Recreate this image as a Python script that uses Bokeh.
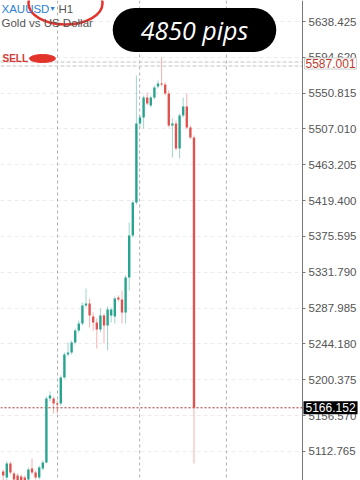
from bokeh.plotting import figure
from bokeh.models import (Range1d, FixedTicker, PrintfTickFormatter, Span, Label,
                          ColumnDataSource, BoxAnnotation)
from bokeh.embed import file_html
from bokeh.resources import INLINE

# ---- data (XAUUSD H1) ----
open_ = [5088.3, 5080.9, 5098.0, 5085.8, 5083.4, 5082.2, 5080.9, 5078.5, 5091.9, 5087.0,
         5080.9, 5091.9, 5099.3, 5177.5, 5177.5, 5171.4, 5171.4, 5203.2, 5231.3, 5233.7,
         5246.0, 5260.6, 5269.2, 5291.2, 5293.6, 5277.8, 5270.4, 5261.9, 5279.0, 5266.8,
         5279.0, 5277.8, 5301.0, 5298.6, 5282.7, 5325.4, 5376.8, 5417.1, 5513.7, 5521.1,
         5545.5, 5535.7, 5545.5, 5559.0, 5562.6, 5561.4, 5550.4, 5511.3, 5513.7, 5483.2,
         5523.5, 5534.5, 5508.8, 5496.6]
high_ = [5090.7, 5100.5, 5100.5, 5088.3, 5085.8, 5084.6, 5083.4, 5093.1, 5104.2, 5089.5,
         5095.6, 5101.7, 5180.0, 5186.1, 5180.0, 5175.1, 5205.6, 5233.7, 5246.0, 5248.4,
         5263.1, 5272.9, 5294.9, 5312.0, 5299.8, 5282.7, 5275.3, 5287.5, 5281.4, 5290.0,
         5288.8, 5302.2, 5303.5, 5309.5, 5327.9, 5392.7, 5419.6, 5572.4, 5523.5, 5547.9,
         5551.6, 5547.9, 5560.2, 5566.3, 5594.4, 5563.9, 5554.1, 5519.8, 5517.4, 5525.9,
         5545.5, 5550.4, 5511.3, 5499.0]
low_ = [5077.3, 5077.3, 5084.6, 5074.8, 5073.6, 5072.4, 5071.2, 5076.0, 5084.6, 5078.5,
        5078.5, 5089.5, 5098.0, 5173.8, 5159.2, 5159.2, 5168.9, 5202.0, 5228.9, 5231.3,
        5243.5, 5258.2, 5266.8, 5288.8, 5264.3, 5260.6, 5238.6, 5258.2, 5244.7, 5236.2,
        5270.4, 5269.2, 5296.1, 5269.2, 5269.2, 5309.5, 5374.4, 5414.7, 5509.0, 5507.6,
        5535.7, 5533.3, 5543.1, 5556.5, 5559.0, 5547.9, 5508.8, 5472.2, 5480.7, 5470.9,
        5521.1, 5506.4, 5494.2, 5098.0]
close_ = [5083.4, 5098.0, 5087.0, 5078.5, 5077.3, 5076.0, 5077.3, 5090.7, 5087.0, 5080.9,
          5093.1, 5099.3, 5177.5, 5181.2, 5171.4, 5170.2, 5203.2, 5231.3, 5233.7, 5246.0,
          5260.6, 5269.2, 5291.2, 5293.6, 5279.0, 5270.4, 5261.9, 5279.0, 5266.8, 5286.3,
          5286.3, 5299.8, 5298.6, 5282.7, 5325.4, 5376.8, 5417.1, 5513.7, 5521.1, 5545.5,
          5538.2, 5545.5, 5557.7, 5562.6, 5561.4, 5550.4, 5511.3, 5513.7, 5483.2, 5523.5,
          5534.5, 5508.8, 5496.6, 5166.152]
price_ticks = [5112.765, 5156.570, 5200.375, 5244.180, 5287.985, 5331.790, 5375.595,
               5419.400, 5463.205, 5507.010, 5550.815, 5594.620, 5638.425]
current_price = 5166.152
sell_price = 5587.001
sell_lines = [5588.9, 5584.0]
day_separators = [15.1, 37.9, 62.0]
pips_text = "4850 pips"

# ---- placement helpers (pixel -> data, for annotations only) ----
def sx(px):
    return (px - 2.7) / 3.6

def sy(py):
    return 5664.1 - 1.2226 * py

AXIS_PX = 302
GREEN = "#26a48f"
RED = "#e0524f"

idx = list(range(len(open_)))
colors = [GREEN if c >= o else RED for o, c in zip(open_, close_)]
src = ColumnDataSource(dict(x=idx, o=open_, h=high_, l=low_, c=close_, col=colors))

p = figure(width=360, height=480, x_range=Range1d(sx(0), sx(360)),
           y_range=Range1d(sy(480), sy(0)), x_axis_location=None,
           y_axis_location="right", toolbar_location=None, output_backend="svg",
           min_border=0, outline_line_color=None, background_fill_color="white")

# price axis, drawn at the right edge of the candle area
ax = p.yaxis[0]
ax.fixed_location = sx(AXIS_PX)
ax.ticker = FixedTicker(ticks=price_ticks)
ax.formatter = PrintfTickFormatter(format="%.3f")
ax.major_label_text_font = "Liberation Sans"
ax.major_label_text_font_size = "11.5px"
ax.major_label_text_color = "#555555"
ax.major_tick_in = 0
ax.major_tick_out = 3
ax.minor_tick_line_color = None
ax.axis_line_color = "#777777"
ax.major_tick_line_color = "#777777"
ax.major_label_standoff = 3

p.xgrid.grid_line_color = None
p.ygrid.grid_line_color = "#ececec"
p.ygrid.grid_line_dash = "4 3"

for d in day_separators:
    p.add_layout(Span(location=d, dimension="height", line_color="#b0b0b0",
                      line_dash="3 3", line_width=1, level="underlay"))
for s in sell_lines:
    p.add_layout(Span(location=s, dimension="width", line_color="#c4c4c4",
                      line_dash="4 2", line_width=1, level="underlay"))
p.add_layout(Span(location=current_price, dimension="width", line_color="#a8322c",
                  line_dash="2 2", line_width=1, level="underlay"))
# blank price-scale area (hides grid lines behind the scale)
p.add_layout(BoxAnnotation(left=sx(AXIS_PX), fill_color="white", fill_alpha=1,
                           line_color=None, level="underlay"))

# candles
p.segment(x0="x", y0="l", x1="x", y1="h", line_color="col", line_alpha=0.45,
          line_width=1, source=src)
p.vbar(x="x", width=0.66, top="o", bottom="c", fill_color="col", line_color=None,
       source=src)

# price labels on the axis
p.add_layout(Label(x=sx(303), y=current_price, text="%.3f" % current_price,
                   text_color="white", text_font="Liberation Sans",
                   text_font_size="12px", text_baseline="middle",
                   background_fill_color="black", padding=2))
p.add_layout(Label(x=sx(304), y=sell_price, text="%.3f" % sell_price,
                   text_color="#c0392b", text_font="Liberation Sans",
                   text_font_size="12px", text_baseline="middle",
                   background_fill_color="white", border_line_color="#cfcfcf", padding=1))

# header texts
p.add_layout(Label(x=sx(1), y=sy(8), text="XAUUSD", text_color="#2f7fd4",
                   text_font="Liberation Sans", text_font_size="11.5px",
                   text_baseline="middle"))
p.add_layout(Label(x=sx(50), y=sy(8), text="▾", text_color="#2f7fd4",
                   text_font="DejaVu Sans", text_font_size="8px",
                   text_baseline="middle"))
p.add_layout(Label(x=sx(58), y=sy(8), text="H1", text_color="#555555",
                   text_font="Liberation Sans", text_font_size="11.5px",
                   text_baseline="middle"))
p.add_layout(Label(x=sx(1), y=sy(22), text="Gold vs US Dollar", text_color="#555555",
                   text_font="Liberation Sans", text_font_size="11.5px",
                   text_baseline="middle"))
p.add_layout(Label(x=sx(2), y=sy(58), text="SELL", text_color="#d23b33",
                   text_font="Liberation Sans", text_font_size="10px",
                   text_font_style="bold", text_baseline="middle"))

# red hand-drawn marks
p.ellipse(x=sx(65), y=sy(3), width=74, height=42, width_units="screen",
          height_units="screen", fill_alpha=0, line_color="#e3342c", line_width=2.5)
p.ellipse(x=sx(42), y=sy(58), width=26, height=8, width_units="screen",
          height_units="screen", fill_color="#e3342c", line_color="#e3342c")

# pips badge
p.add_layout(Label(x=sx(194), y=sy(29.5), text=pips_text, text_color="white",
                   text_font="Open Sans", text_font_style="italic",
                   text_font_size="25px", text_align="center", text_baseline="middle",
                   background_fill_color="black", border_radius=22,
                   padding=dict(left=28, right=28, top=5, bottom=5)))

open("out.html", "w").write(file_html(p, INLINE))
